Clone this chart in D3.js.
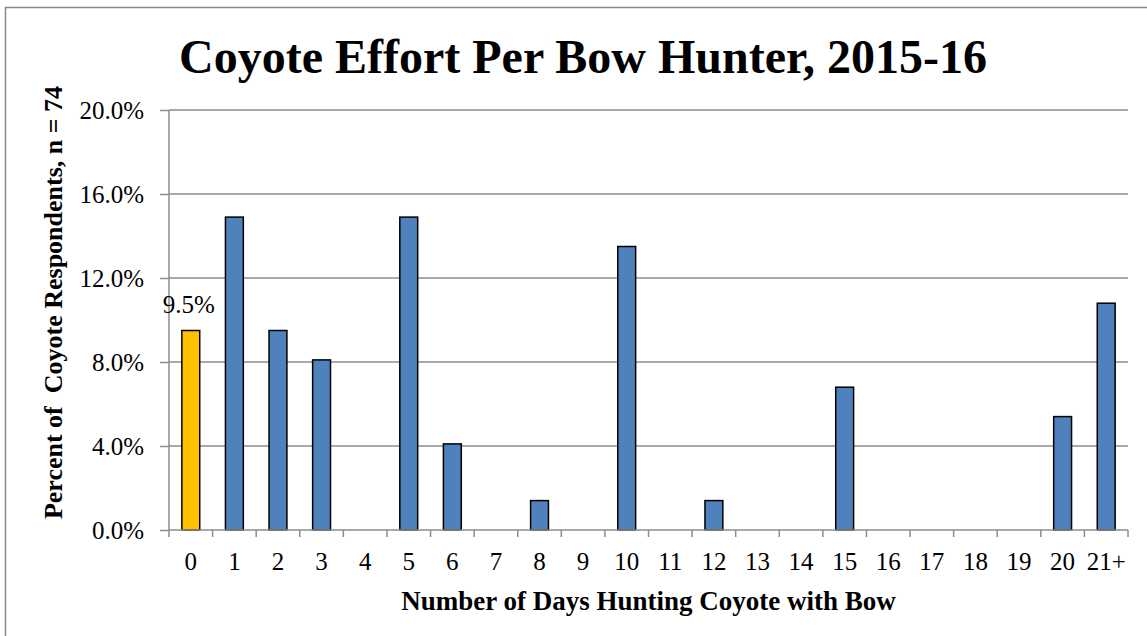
<!DOCTYPE html>
<html>
<head>
<meta charset="utf-8">
<script src="https://cdn.jsdelivr.net/npm/d3@7"></script>
<style>
  html, body { margin: 0; padding: 0; background: #fff; }
  svg { display: block; }
  text { font-family: "Liberation Serif", "Times New Roman", serif; fill: #000; white-space: pre; }
</style>
</head>
<body>
<svg id="chart" width="1147" height="636"></svg>
<script>
const categories = ["0","1","2","3","4","5","6","7","8","9","10","11","12","13","14","15","16","17","18","19","20","21+"];
const values = [9.5, 14.9, 9.5, 8.1, 0, 14.9, 4.1, 0, 1.4, 0, 13.5, 0, 1.4, 0, 0, 6.8, 0, 0, 0, 0, 5.4, 10.8];
const highlightIndex = [0];
const yTicks = [0, 4, 8, 12, 16, 20];
const titleText = "Coyote Effort Per Bow Hunter, 2015-16";
const xTitle = "Number of Days Hunting Coyote with Bow";
const yTitle = "Percent of  Coyote Respondents, n = 74";
const labelled = [0];

(function () {
const svg = d3.select("#chart");
const W = 1147, H = 636;
const pL = 169, pR = 1128, pT = 110, pB = 530;
const fs = 25;

// outer border (only top and left visible)
svg.append("rect").attr("x", 5.5).attr("y", 7.5).attr("width", W + 10).attr("height", H + 10)
  .attr("fill", "none").attr("stroke", "#898989").attr("stroke-width", 1.5);

const x = d3.scaleBand().domain(categories).range([pL, pR])
  .paddingInner(0.59).paddingOuter(0.295);
const xc = d3.scaleBand().domain(categories).range([pL, pR]).padding(0);
const y = d3.scaleLinear().domain([0, 20]).range([pB, pT]);

// gridlines
svg.append("g").selectAll("line").data(yTicks.filter(t => t > 0)).join("line")
  .attr("x1", pL).attr("x2", pR)
  .attr("y1", d => y(d)).attr("y2", d => y(d))
  .attr("stroke", "#8c8c8c").attr("stroke-width", 1.5);

// y axis
const yAxis = d3.axisLeft(y).tickValues(yTicks).tickSize(9).tickPadding(16)
  .tickFormat(d => d.toFixed(1) + "%");
const gy = svg.append("g").attr("transform", `translate(${pL},0)`).call(yAxis);
gy.attr("font-family", null).attr("font-size", null);
gy.select(".domain").attr("stroke", "#8c8c8c").attr("stroke-width", 1.5).attr("d", `M0,${pB}V${pT}`);
gy.selectAll(".tick line").attr("stroke", "#8c8c8c").attr("stroke-width", 1.5);
gy.selectAll(".tick text").attr("font-size", fs).attr("fill", "#000").attr("dy", "0.34em");

// bars
svg.append("g").selectAll("rect")
  .data(values.map((v, i) => ({v, c: categories[i], i})).filter(d => d.v > 0))
  .join("rect")
  .attr("x", d => x(d.c))
  .attr("width", x.bandwidth())
  .attr("y", d => y(d.v))
  .attr("height", d => y(0) - y(d.v))
  .attr("fill", d => highlightIndex.includes(d.i) ? "#FFC000" : "#4F81BD")
  .attr("stroke", "#000").attr("stroke-width", 1.5);

// x axis
const gx = svg.append("g").attr("transform", `translate(0,${pB})`);
gx.append("line").attr("x1", pL).attr("x2", pR).attr("y1", 0).attr("y2", 0)
  .attr("stroke", "#8c8c8c").attr("stroke-width", 1.5);
const boundaries = categories.map(c => xc(c)).concat([pR]);
gx.selectAll("line.tk").data(boundaries).join("line").attr("class", "tk")
  .attr("x1", d => d).attr("x2", d => d).attr("y1", 0).attr("y2", 7)
  .attr("stroke", "#8c8c8c").attr("stroke-width", 1.5);
gx.selectAll("text").data(categories).join("text")
  .attr("x", d => xc(d) + xc.bandwidth() / 2)
  .attr("y", 40)
  .attr("text-anchor", "middle")
  .attr("font-size", fs)
  .text(d => d);

// data labels
svg.append("g").selectAll("text").data(labelled).join("text")
  .attr("x", i => x(categories[i]) + x.bandwidth() / 2 - 2)
  .attr("y", i => y(values[i]) - 18)
  .attr("text-anchor", "middle")
  .attr("font-size", fs)
  .text(i => values[i].toFixed(1) + "%");

// title
svg.append("text").attr("x", 583).attr("y", 73).attr("text-anchor", "middle")
  .attr("font-size", 48).attr("font-weight", "bold").text(titleText);

// x title
svg.append("text").attr("x", (pL + pR) / 2).attr("y", 610).attr("text-anchor", "middle")
  .attr("font-size", 27).attr("font-weight", "bold").text(xTitle);

// y title
svg.append("text").attr("transform", `translate(62,${(85 + 520) / 2}) rotate(-90)`)
  .attr("text-anchor", "middle")
  .attr("font-size", 26).attr("font-weight", "bold").text(yTitle);
})();
</script>
</body>
</html>
